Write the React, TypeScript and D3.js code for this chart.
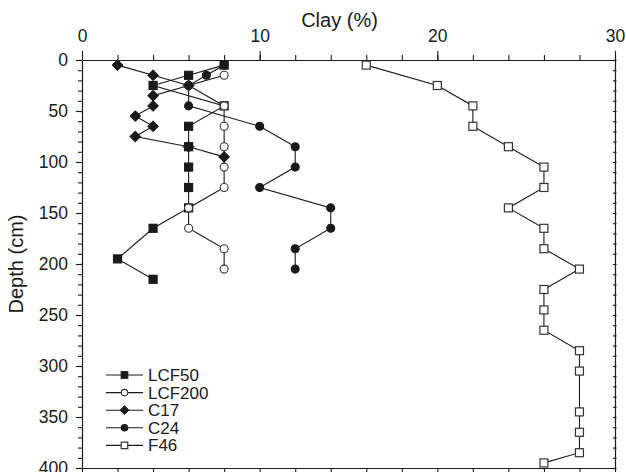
import React, { useEffect, useRef } from 'react';
import * as d3 from 'd3';

// depth (cm) and clay (%) per core
const lcf50Depth = [5, 15, 25, 45, 65, 85, 105, 125, 145, 165, 195, 215];
const lcf50Clay = [8, 6, 4, 8, 6, 6, 6, 6, 6, 4, 2, 4];

const lcf200Depth = [15, 25, 45, 65, 85, 105, 125, 145, 165, 185, 205];
const lcf200Clay = [8, 6, 8, 8, 8, 8, 8, 6, 6, 8, 8];

const c17Depth = [5, 15, 25, 35, 45, 55, 65, 75, 85, 95];
const c17Clay = [2, 4, 6, 4, 4, 3, 4, 3, 6, 8];

const c24Depth = [5, 15, 25, 45, 65, 85, 105, 125, 145, 165, 185, 205];
const c24Clay = [8, 7, 6, 6, 10, 12, 12, 10, 14, 14, 12, 12];

const f46Depth = [5, 25, 45, 65, 85, 105, 125, 145, 165, 185, 205, 225, 245, 265, 285, 305, 345, 365, 385, 395];
const f46Clay = [16, 20, 22, 22, 24, 26, 26, 24, 26, 26, 28, 26, 26, 26, 28, 28, 28, 28, 28, 26];

const clayTicks = [0, 10, 20, 30];
const depthTicks = [0, 50, 100, 150, 200, 250, 300, 350, 400];

const seriesList = [
  { name: 'LCF50', depth: lcf50Depth, clay: lcf50Clay, shape: 'square', filled: true },
  { name: 'LCF200', depth: lcf200Depth, clay: lcf200Clay, shape: 'circle', filled: false },
  { name: 'C17', depth: c17Depth, clay: c17Clay, shape: 'diamond', filled: true },
  { name: 'C24', depth: c24Depth, clay: c24Clay, shape: 'circle', filled: true },
  { name: 'F46', depth: f46Depth, clay: f46Clay, shape: 'square', filled: false },
];

const FONT = '"Liberation Sans", Arial, Helvetica, sans-serif';
const INK = '#1a1a1a';

function drawMarker(g: any, shape: string, filled: boolean, cx: number, cy: number, s: number) {
  const fill = filled ? INK : '#fff';
  const stroke = filled ? INK : '#333';
  if (shape === 'square') {
    g.append('rect')
      .attr('x', cx - s / 2).attr('y', cy - s / 2)
      .attr('width', s).attr('height', s)
      .attr('fill', fill).attr('stroke', stroke).attr('stroke-width', 1.2);
  } else if (shape === 'circle') {
    g.append('circle')
      .attr('cx', cx).attr('cy', cy).attr('r', s / 2)
      .attr('fill', fill).attr('stroke', stroke).attr('stroke-width', 1.1);
  } else {
    const r = s * 0.68;
    g.append('path')
      .attr('d', `M${cx},${cy - r}L${cx + r},${cy}L${cx},${cy + r}L${cx - r},${cy}Z`)
      .attr('fill', fill).attr('stroke', stroke).attr('stroke-width', 1);
  }
}

const App = () => {
  const ref = useRef<SVGSVGElement | null>(null);

  useEffect(() => {
    if (!ref.current) return;
    const width = 626;
    const marginLeft = 82;
    const marginRight = 11;
    const marginTop = 60;
    const plotBottom = 468;

    const svg = d3.select(ref.current);
    svg.selectAll('*').remove();

    const x = d3.scaleLinear().domain([0, 30]).range([marginLeft, width - marginRight]);
    const y = d3.scaleLinear().domain([0, 400]).range([marginTop, plotBottom]);

    const styleAxis = (g: any, fs: number) => {
      g.selectAll('.domain').attr('stroke', INK).attr('stroke-width', 1.2);
      g.selectAll('.tick line').attr('stroke', INK).attr('stroke-width', 1.1);
      g.selectAll('.tick text').attr('fill', INK).style('font-size', fs + 'px').style('font-family', FONT);
    };

    // top axis: minor every 2 %, labelled every 10 %
    svg.append('g')
      .attr('transform', `translate(0,${marginTop})`)
      .call(d3.axisTop(x).tickValues(d3.range(0, 31, 2)).tickSize(5).tickFormat(() => '').tickSizeOuter(0))
      .call((g: any) => styleAxis(g, 17));
    svg.append('g')
      .attr('transform', `translate(0,${marginTop})`)
      .call(d3.axisTop(x).tickValues(clayTicks).tickSize(9).tickPadding(9).tickSizeOuter(0))
      .call((g: any) => styleAxis(g, 17.5))
      .call((g: any) => g.select('.domain').remove());

    // bottom axis
    svg.append('g')
      .attr('transform', `translate(0,${plotBottom})`)
      .call(d3.axisBottom(x).tickValues(d3.range(0, 31, 2)).tickSize(4).tickFormat(() => '').tickSizeOuter(0))
      .call((g: any) => styleAxis(g, 17));

    // left axis: minor every 10 cm
    svg.append('g')
      .attr('transform', `translate(${marginLeft},0)`)
      .call(d3.axisLeft(y).tickValues(d3.range(0, 401, 10)).tickSize(4).tickFormat(() => '').tickSizeOuter(0))
      .call((g: any) => styleAxis(g, 17));
    svg.append('g')
      .attr('transform', `translate(${marginLeft},0)`)
      .call(d3.axisLeft(y).tickValues(depthTicks).tickSize(6).tickPadding(8).tickSizeOuter(0))
      .call((g: any) => styleAxis(g, 17.5))
      .call((g: any) => g.select('.domain').remove());

    // right axis
    svg.append('g')
      .attr('transform', `translate(${width - marginRight},0)`)
      .call(d3.axisLeft(y).tickValues(d3.range(0, 401, 10)).tickSize(3).tickFormat(() => '').tickSizeOuter(0))
      .call((g: any) => styleAxis(g, 17))
      .call((g: any) => g.selectAll('.tick line').attr('x1', 1.5).attr('x2', -2));

    // titles
    svg.append('text')
      .attr('x', (marginLeft + width - marginRight) / 2 - 9)
      .attr('y', 27)
      .attr('text-anchor', 'middle')
      .attr('fill', INK)
      .style('font-family', FONT)
      .style('font-size', '20px')
      .text('Clay (%)');

    svg.append('text')
      .attr('transform', `translate(23,${(marginTop + plotBottom) / 2}) rotate(-90)`)
      .attr('text-anchor', 'middle')
      .attr('fill', INK)
      .style('font-family', FONT)
      .style('font-size', '20px')
      .text('Depth (cm)');

    // lines
    seriesList.forEach(s => {
      const pts = s.depth.map((d, i) => [x(s.clay[i]), y(d)] as [number, number]);
      svg.append('path')
        .attr('d', d3.line()(pts))
        .attr('fill', 'none')
        .attr('stroke', INK)
        .attr('stroke-width', 1.1);
    });

    // markers
    seriesList.forEach(s => {
      const g = svg.append('g');
      s.depth.forEach((d, i) => drawMarker(g, s.shape, s.filled, x(s.clay[i]), y(d), 8));
    });

    // legend
    const legend = svg.append('g').attr('transform', 'translate(106,375)');
    seriesList.forEach((s, i) => {
      const row = legend.append('g').attr('transform', `translate(0,${i * 17.6})`);
      row.append('line').attr('x1', 0).attr('x2', 37).attr('y1', 0).attr('y2', 0)
        .attr('stroke', INK).attr('stroke-width', 1.1);
      drawMarker(row, s.shape, s.filled, 18.5, 0, 6.5);
      row.append('text')
        .attr('x', 42)
        .attr('y', 0)
        .attr('dy', '0.35em')
        .attr('fill', INK)
        .style('font-family', FONT)
        .style('font-size', '17px')
        .text(s.name);
    });
  }, []);

  return (
    <svg
      ref={ref}
      width={626}
      height={472}
      style={{ position: 'absolute', left: 0, top: 0, background: '#fff' }}
    />
  );
};

export default App;
